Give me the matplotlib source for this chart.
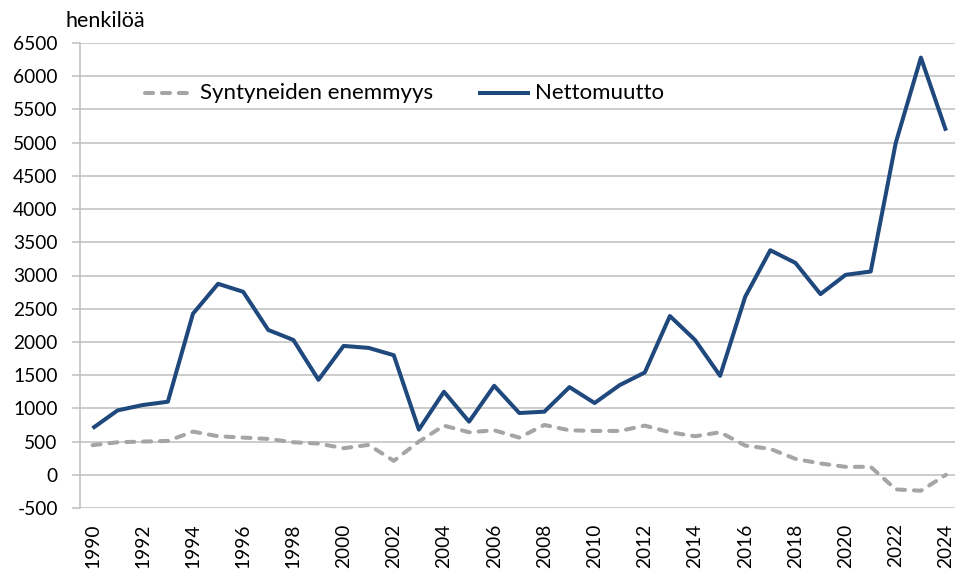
import matplotlib
matplotlib.use("Agg")
import matplotlib.pyplot as plt
from matplotlib.lines import Line2D

years = list(range(1990, 2025))
syntyneiden = [445, 490, 500, 510, 650, 580, 560, 540, 490, 470, 400, 450, 210, 500,
               740, 640, 670, 560, 750, 670, 660, 660, 740, 640, 580, 640, 440, 390,
               240, 170, 120, 120, -220, -240, 0]
netto = [700, 970, 1050, 1100, 2425, 2875, 2755, 2180, 2030, 1430, 1940, 1910, 1800, 680,
         1250, 800, 1340, 930, 950, 1320, 1080, 1350, 1540, 2390, 2030, 1490, 2680, 3380,
         3190, 2720, 3010, 3060, 5000, 6280, 5180]
yticks = list(range(-500, 7000, 500))
xticks = list(range(1990, 2025, 2))
labels = ["Syntyneiden enemmyys", "Nettomuutto"]

plt.rcParams['font.family'] = ['Lato', 'DejaVu Sans']
W, H = 955, 571
fig = plt.figure(figsize=(W / 100, H / 100), dpi=100)
left, top, bottom = 80, 43, 508
ppy = (946 - 92) / 34
right = 946 + ppy / 2
ax = fig.add_axes([left / W, 1 - bottom / H, (right - left) / W, (bottom - top) / H])

grid_c = '#BFBFBF'
gray_c = '#A5A5A5'
blue_c = '#1F487C'
ax.set_ylim(-500, 6500)
ax.set_xlim(1989.5, 2024.5)
ax.set_yticks(yticks)
ax.set_yticklabels([str(v) for v in yticks], fontsize=13.8)
ax.set_xticks(xticks)
ax.set_xticklabels([str(v) for v in xticks], rotation=90, fontsize=13.8, va='top')
ax.grid(axis='y', color=grid_c, linewidth=1.1)
ax.set_axisbelow(True)
for s in ['top', 'right', 'bottom']:
    ax.spines[s].set_visible(False)
ax.spines['left'].set_color(grid_c)
ax.spines['left'].set_linewidth(1.1)
ax.tick_params(axis='y', length=6, color=grid_c, width=1.1, pad=10)
ax.tick_params(axis='x', length=0, pad=11)

ax.plot(years, syntyneiden, color=gray_c, lw=2.9, linestyle=(0, (2.0, 2.2)),
        dash_capstyle='round', solid_joinstyle='round', label=labels[0])
ax.plot(years, netto, color=blue_c, lw=2.9, solid_joinstyle='round',
        solid_capstyle='butt', label=labels[1])

# legend drawn manually (pixel positions)
def fx(px):
    return px / W

def fy(py):
    return 1 - py / H

ly = 93
fig.add_artist(Line2D([fx(145), fx(190)], [fy(ly), fy(ly)], color=gray_c, lw=2.9,
                      linestyle=(0, (2.0, 2.2)), dash_capstyle='round'))
fig.text(fx(200), fy(ly), labels[0], fontsize=16, va='center', ha='left')
fig.add_artist(Line2D([fx(478), fx(530)], [fy(ly), fy(ly)], color=blue_c, lw=2.9,
                      solid_capstyle='butt'))
fig.text(fx(535), fy(ly), labels[1], fontsize=16, va='center', ha='left')

fig.text(65 / W, 1 - 21 / H, 'henkilöä', fontsize=15.5, va='center', ha='left')

fig.savefig('out.png', dpi=100)
